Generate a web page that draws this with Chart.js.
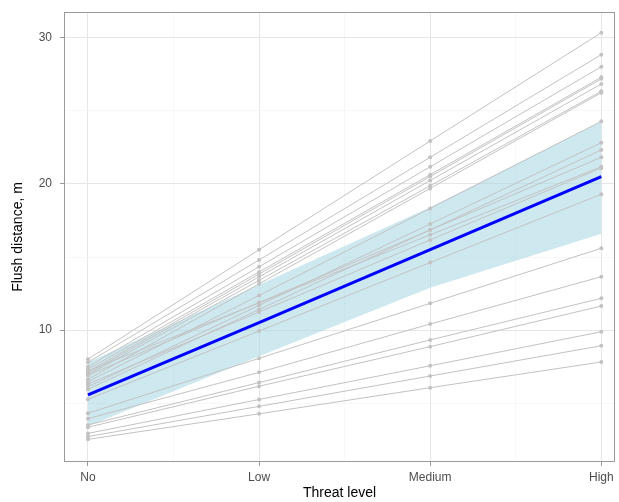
<!DOCTYPE html>
<html lang="en">
<head>
    <meta charset="UTF-8">
    <title>Flush distance by threat level</title>
    <script src="https://cdn.jsdelivr.net/npm/chart.js"></script>
    <style>
        html, body { margin: 0; padding: 0; background: #ffffff; }
        .box { width: 619px; height: 502px; }
    </style>
</head>
<body>
    <div class="box">
        <canvas id="flushChart" width="619" height="502"></canvas>
    </div>
    <script>
        // threat levels on the x axis
        const levels = ['No', 'Low', 'Medium', 'High'];

        // population fit and its confidence band
        const meanFit = [5.55, 10.5, 15.5, 20.5];
        const ciLower = [3.4, 8.2, 12.9, 16.6];
        const ciUpper = [7.8, 13.1, 18.4, 24.3];

        // one row per individual: No, Low, Medium, High
        const individuals = [
            [8.0, 15.5, 22.95, 30.36],
            [7.79, 14.8, 21.83, 28.86],
            [7.49, 14.33, 21.18, 28.03],
            [7.31, 13.98, 20.64, 27.31],
            [7.14, 13.83, 20.51, 27.2],
            [7.03, 13.64, 20.24, 26.85],
            [6.92, 13.4, 19.88, 26.35],
            [6.62, 13.16, 19.7, 26.25],
            [6.46, 12.37, 18.33, 24.29],
            [6.12, 11.69, 17.26, 22.83],
            [5.94, 11.4, 16.86, 22.33],
            [6.9, 11.88, 16.85, 21.83],
            [7.2, 11.86, 16.52, 21.18],
            [6.3, 11.23, 16.17, 21.1],
            [5.25, 9.93, 14.62, 19.3],
            [4.3, 8.06, 11.83, 15.6],
            [3.93, 7.1, 10.41, 13.65],
            [3.5, 6.4, 9.32, 12.17],
            [3.34, 6.15, 8.86, 11.64],
            [2.92, 5.24, 7.55, 9.88],
            [2.7, 4.77, 6.85, 8.92],
            [2.51, 4.26, 6.05, 7.81]
        ];

        const yTicks = [5, 10, 15, 20, 25, 30];
        const xTicks = [0, 0.5, 1, 1.5, 2, 2.5, 3];

        function toPoints(values) {
            return values.map((v, i) => ({ x: i, y: v }));
        }

        const datasets = [];

        // ribbon
        datasets.push({
            data: toPoints(ciLower),
            borderWidth: 0,
            pointRadius: 0,
            fill: false,
            order: 3
        });
        datasets.push({
            data: toPoints(ciUpper),
            borderWidth: 0,
            pointRadius: 0,
            backgroundColor: 'rgba(173,216,230,0.6)',
            fill: '-1',
            order: 3
        });

        individuals.forEach(row => {
            datasets.push({
                data: toPoints(row),
                borderColor: '#c2c2c2',
                backgroundColor: '#c2c2c2',
                borderWidth: 1,
                pointRadius: 2,
                pointBorderWidth: 0,
                fill: false,
                order: 2
            });
        });

        datasets.push({
            data: toPoints(meanFit),
            borderColor: '#0000ff',
            borderWidth: 3,
            pointRadius: 0,
            fill: false,
            order: 1
        });

        // panel border like the ggplot theme
        const panelBorder = {
            id: 'panelBorder',
            afterDraw(chart) {
                const { ctx, chartArea } = chart;
                ctx.save();
                ctx.strokeStyle = '#9a9a9a';
                ctx.lineWidth = 1;
                ctx.strokeRect(chartArea.left + 0.5, chartArea.top + 0.5,
                    chartArea.right - chartArea.left - 1, chartArea.bottom - chartArea.top - 1);
                ctx.restore();
            }
        };

        // keep the plot panel where the reference has it
        const noPad = scale => {
            scale.paddingLeft = 0;
            scale.paddingRight = 0;
            scale.paddingTop = 0;
            scale.paddingBottom = 0;
        };

        const font12 = { family: 'Liberation Sans, Arial, sans-serif', size: 12 };
        const font14 = { family: 'Liberation Sans, Arial, sans-serif', size: 14 };

        new Chart(document.getElementById('flushChart'), {
            type: 'line',
            data: { datasets: datasets },
            options: {
                responsive: false,
                animation: false,
                layout: { padding: { top: 12, right: 0, left: 0, bottom: 0 } },
                plugins: {
                    legend: { display: false },
                    tooltip: { enabled: false }
                },
                scales: {
                    x: {
                        type: 'linear',
                        min: -0.14,
                        max: 3.08,
                        afterBuildTicks: scale => { scale.ticks = xTicks.map(v => ({ value: v })); },
                        afterFit: scale => {
                            scale.height = 40;
                            noPad(scale);
                        },
                        border: { display: false },
                        grid: {
                            color: ctx => (ctx.tick && ctx.tick.value % 1 === 0 ? '#e6e6e6' : '#f2f2f2'),
                            lineWidth: ctx => (ctx.tick && ctx.tick.value % 1 === 0 ? 1 : 0.6),
                            tickLength: 4,
                            tickColor: ctx => (ctx.tick && ctx.tick.value % 1 === 0 ? '#9a9a9a' : 'rgba(0,0,0,0)')
                        },
                        ticks: {
                            autoSkip: false,
                            maxRotation: 0,
                            padding: 4,
                            color: '#4d4d4d',
                            font: font12,
                            callback: v => (v % 1 === 0 ? levels[v] : '')
                        },
                        title: {
                            display: true,
                            text: 'Threat level',
                            color: '#000000',
                            padding: { top: 1, bottom: 0 },
                            font: font14
                        }
                    },
                    y: {
                        min: 0.96,
                        max: 31.78,
                        afterBuildTicks: scale => { scale.ticks = yTicks.map(v => ({ value: v })); },
                        afterFit: scale => {
                            scale.width = 64;
                            noPad(scale);
                        },
                        border: { display: false },
                        grid: {
                            color: ctx => (ctx.tick && ctx.tick.value % 10 === 0 ? '#e6e6e6' : '#f2f2f2'),
                            lineWidth: ctx => (ctx.tick && ctx.tick.value % 10 === 0 ? 1 : 0.6),
                            tickLength: 4,
                            tickColor: ctx => (ctx.tick && ctx.tick.value % 10 === 0 ? '#9a9a9a' : 'rgba(0,0,0,0)')
                        },
                        ticks: {
                            padding: 8,
                            color: '#4d4d4d',
                            font: font12,
                            callback: v => (v % 10 === 0 ? String(v) : '')
                        },
                        title: {
                            display: true,
                            text: 'Flush distance, m',
                            color: '#000000',
                            padding: { top: 10, bottom: 4 },
                            font: font14
                        }
                    }
                }
            },
            plugins: [panelBorder]
        });
    </script>
</body>
</html>
